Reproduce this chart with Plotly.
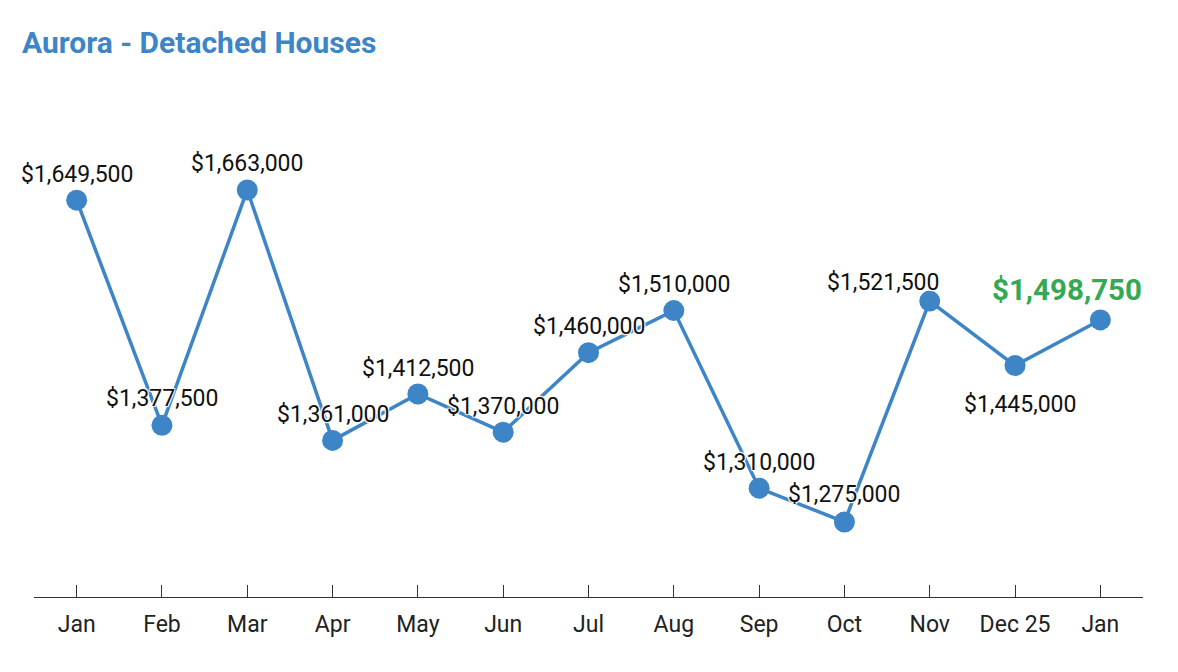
import numpy as np
import plotly.graph_objects as go

months = ["Jan", "Feb", "Mar", "Apr", "May", "Jun", "Jul", "Aug", "Sep", "Oct", "Nov", "Dec 25", "Jan "]
prices = [1649500, 1377500, 1663000, 1361000, 1412500, 1370000, 1460000, 1510000,
          1310000, 1275000, 1521500, 1445000, 1498750]
tick_text = ["Jan", "Feb", "Mar", "Apr", "May", "Jun", "Jul", "Aug", "Sep", "Oct", "Nov", "Dec 25", "Jan"]
# label offsets (px) relative to each point
label_dx = [0, 0, 0, 0, 0, 0, 0, 0, 0, 0, -47, 5, -33]
label_dy = [26, 27, 26, 26, 26, 26, 26, 26, 26, 27, 19, -39, 30]

BLUE = "#3d85c6"
GREEN = "#34a853"
HALO = "1px 1px 1px white, -1px -1px 1px white, 1px -1px 1px white, -1px 1px 1px white"

x_idx = list(range(len(months)))

fig = go.Figure()
fig.add_trace(go.Scatter(
    x=x_idx, y=prices, mode="lines+markers",
    line=dict(color=BLUE, width=3.5),
    marker=dict(color=BLUE, size=21),
    hoverinfo="skip", showlegend=False,
))

n = len(prices)
for i, (xv, v) in enumerate(zip(x_idx, prices)):
    last = i == n - 1
    fig.add_annotation(
        x=xv, y=np.log10(v), xref="x", yref="y",
        text=f"${v:,.0f}", showarrow=False,
        xanchor="center", yanchor="middle",
        xshift=label_dx[i], yshift=label_dy[i],
        font=dict(family="Roboto", size=29.5 if last else 23,
                  color=GREEN if last else "#111111",
                  weight="bold" if last else "normal",
                  shadow="none" if last else HALO),
    )

fig.update_layout(
    width=1178, height=672,
    margin=dict(l=34, r=35, t=100, b=75),
    paper_bgcolor="white", plot_bgcolor="white",
    font=dict(family="Roboto", color="#222222"),
    title=dict(text="<b>Aurora - Detached Houses</b>", x=22 / 1178, xref="container",
               y=1 - 42 / 672, yref="container", xanchor="left", yanchor="middle",
               font=dict(family="Roboto", size=30, color=BLUE)),
    xaxis=dict(
        tickmode="array", tickvals=x_idx, ticktext=tick_text,
        range=[-0.5, n - 0.5], showgrid=False, zeroline=False,
        showline=True, linecolor="#333333", linewidth=1,
        ticks="inside", ticklen=12, tickcolor="#333333", tickwidth=1,
        tickfont=dict(family="Roboto", size=23, color="#222222"),
        ticklabelstandoff=6,
    ),
    yaxis=dict(
        type="log", range=[6.07944, 6.25216],
        showgrid=False, zeroline=False, showline=False,
        showticklabels=False, ticks="",
    ),
)

fig.write_html("out.html", config={"displayModeBar": False},
               post_script="document.body.style.margin='0';")
